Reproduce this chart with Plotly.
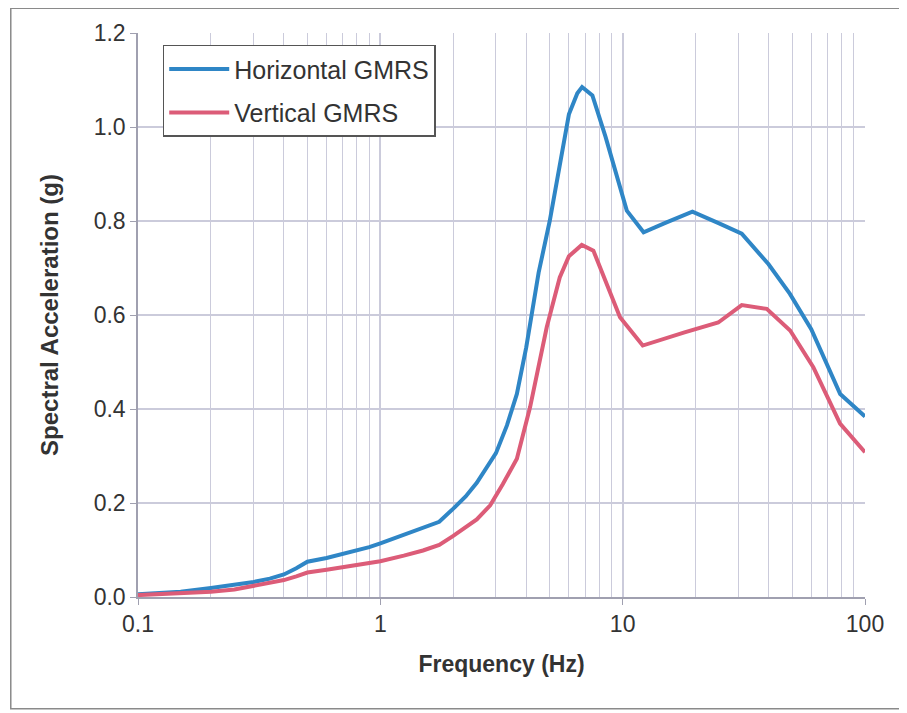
import plotly.graph_objects as go

# frequency (Hz) and spectral acceleration (g)
freq_h = [0.1, 0.15, 0.2, 0.25, 0.3, 0.35, 0.4, 0.45, 0.5, 0.6, 0.7, 0.8, 0.9, 1.0,
          1.25, 1.5, 1.75, 2.0, 2.25, 2.5, 2.75, 3.0, 3.33, 3.66, 4.0, 4.5, 5.0,
          5.5, 6.0, 6.5, 6.8, 7.5, 8.5, 10.4, 12.2, 15.0, 19.4, 25.0, 31.0, 40.0,
          49.0, 60.0, 70.0, 79.0, 100.0]
sa_h = [0.006, 0.011, 0.019, 0.025, 0.032, 0.039, 0.048, 0.061, 0.075, 0.083, 0.091, 0.099, 0.106, 0.114,
        0.133, 0.147, 0.160, 0.188, 0.214, 0.243, 0.274, 0.306, 0.365, 0.432, 0.531, 0.690, 0.800,
        0.921, 1.027, 1.072, 1.085, 1.067, 0.979, 0.822, 0.776, 0.796, 0.820, 0.795, 0.773, 0.708,
        0.645, 0.570, 0.495, 0.432, 0.384]

freq_v = [0.1, 0.15, 0.2, 0.25, 0.3, 0.35, 0.4, 0.45, 0.5, 0.6, 0.7, 0.8, 0.9, 1.0,
          1.25, 1.5, 1.75, 2.0, 2.5, 2.84, 3.2, 3.66, 4.15, 4.86, 5.5, 6.0, 6.78,
          7.57, 9.75, 12.1, 18.0, 24.8, 31.0, 39.3, 49.1, 61.2, 78.9, 100.0]
sa_v = [0.004, 0.007, 0.011, 0.016, 0.023, 0.029, 0.036, 0.044, 0.052, 0.058, 0.063, 0.067, 0.071, 0.076,
        0.088, 0.099, 0.111, 0.130, 0.165, 0.195, 0.240, 0.294, 0.404, 0.574, 0.680, 0.725, 0.749,
        0.737, 0.595, 0.535, 0.563, 0.584, 0.621, 0.613, 0.567, 0.489, 0.369, 0.308]

grid_col = '#cbcbdb'
font_col = '#333333'

fig = go.Figure()
fig.add_trace(go.Scatter(x=freq_h, y=sa_h, mode='lines', name='Horizontal GMRS',
                         legendgroup='h', line=dict(color='#2f86c6', width=4)))
fig.add_trace(go.Scatter(x=freq_v, y=sa_v, mode='lines', name='Vertical GMRS',
                         legendgroup='v', line=dict(color='#dc5c78', width=4)))

# page body has an 8px margin, so the figure is a bit smaller than the window
fig.update_layout(
    width=899, height=705,
    margin=dict(l=130, r=42, t=23, b=116),
    paper_bgcolor='white', plot_bgcolor='white',
    font=dict(family='Liberation Sans, Arial', color=font_col, size=22),
    showlegend=True,
    legend=dict(x=0.034, y=0.979, xanchor='left', yanchor='top',
                bordercolor='#555555', borderwidth=1.5, bgcolor='white',
                font=dict(size=25, color=font_col), itemwidth=60,
                tracegroupgap=8),
    shapes=[dict(type='rect', xref='paper', yref='paper', x0=-0.175, x1=1.048,
                 y0=-0.198, y1=1.044, line=dict(color='#8a8a8a', width=1.5))],
)

fig.update_xaxes(
    type='log', range=[-1, 2],
    tickvals=[0.1, 1, 10, 100], ticktext=['0.1', '1', '10', '100'],
    ticks='outside', ticklen=6, tickcolor='#a0a0b0',
    showline=True, linecolor='#a0a0b0', linewidth=1.5,
    showgrid=True, gridcolor=grid_col, gridwidth=1.5,
    minor=dict(tickvals=[m * d for d in [0.1, 1, 10] for m in range(2, 10)],
               showgrid=True, gridcolor=grid_col, gridwidth=1),
    tickfont=dict(size=23, color=font_col),
    title=dict(text='<b>Frequency (Hz)</b>', font=dict(size=23, color=font_col), standoff=20),
)
fig.update_yaxes(
    range=[0, 1.2], tickvals=[0, 0.2, 0.4, 0.6, 0.8, 1.0, 1.2],
    tickformat='.1f',
    ticks='outside', ticklen=6, tickcolor='#a0a0b0',
    showline=True, linecolor='#a0a0b0', linewidth=1.5,
    showgrid=True, gridcolor=grid_col, gridwidth=1.5,
    zeroline=False,
    tickfont=dict(size=23, color=font_col),
    title=dict(text='<b>Spectral Acceleration (g)</b>', font=dict(size=24, color=font_col), standoff=28),
)

fig.write_html("out.html")
